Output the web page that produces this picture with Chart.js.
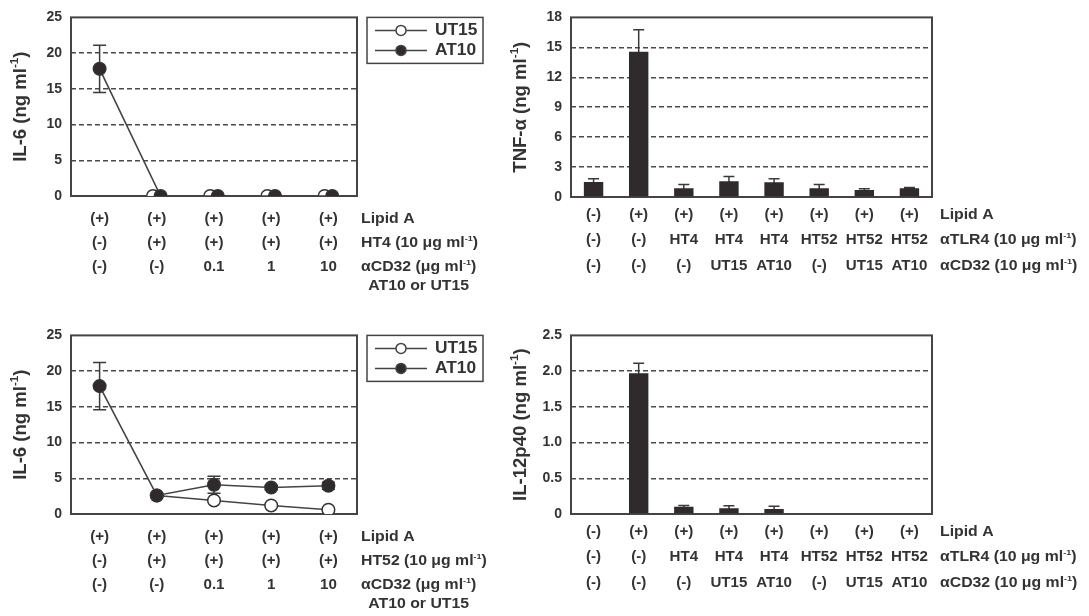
<!DOCTYPE html>
<html>
<head>
<meta charset="utf-8">
<script src="https://cdn.jsdelivr.net/npm/chart.js@4.4.1/dist/chart.umd.min.js"></script>
<style>
  html, body { margin: 0; padding: 0; background: #fff; }
  #page { position: relative; width: 1089px; height: 616px; overflow: hidden; background: #fff; }
  canvas { position: absolute; }
</style>
</head>
<body>
<div id="page">
  <canvas id="il6-ht4" width="500" height="300" style="left:0;top:0"></canvas>
  <canvas id="tnf" width="589" height="300" style="left:500px;top:0"></canvas>
  <canvas id="il6-ht52" width="500" height="300" style="left:0;top:318px"></canvas>
  <canvas id="il12" width="589" height="300" style="left:500px;top:318px"></canvas>
</div>
<script>
// ---- data: IL-6 panels (5 conditions) ----
const lipidA5 = ['(+)', '(+)', '(+)', '(+)', '(+)'];
const ht4Row = ['(-)', '(+)', '(+)', '(+)', '(+)'];
const ht52Row = ['(-)', '(+)', '(+)', '(+)', '(+)'];
const cd32Conc = ['(-)', '(-)', '0.1', '1', '10'];

const ut15Ht4 = [null, 0, 0, 0, 0];
const at10Ht4 = [17.8, 0, 0, 0, 0];
const at10Ht4Sd = [3.3, 0, 0, 0, 0];

const ut15Ht52 = [null, 2.6, 1.9, 1.2, 0.6];
const at10Ht52 = [17.9, 2.6, 4.1, 3.7, 3.95];
const at10Ht52Sd = [3.3, 0, 1.2, 0.3, 0.5];

// ---- data: TNF / IL-12 panels (8 conditions) ----
const lipidA8 = ['(-)', '(+)', '(+)', '(+)', '(+)', '(+)', '(+)', '(+)'];
const tlr4Row = ['(-)', '(-)', 'HT4', 'HT4', 'HT4', 'HT52', 'HT52', 'HT52'];
const cd32Row = ['(-)', '(-)', '(-)', 'UT15', 'AT10', '(-)', 'UT15', 'AT10'];

const tnfMean = [1.5, 14.55, 0.88, 1.57, 1.47, 0.88, 0.69, 0.88];
const tnfSd = [0.33, 2.2, 0.37, 0.49, 0.35, 0.37, 0.13, 0.07];

const il12Mean = [0, 1.97, 0.10, 0.08, 0.07, 0, 0, 0];
const il12Sd = [0, 0.14, 0.02, 0.035, 0.04, 0, 0, 0];

const TEXT = '#333';
const INK = '#2f2a2b';
const FONT = '"Liberation Sans", Arial, Helvetica, sans-serif';

// text with ^superscript^ parts, optional horizontal stretch
function drawRich(ctx, str, x, y, size, align, sx) {
  sx = sx || 1;
  const parts = str.split('^').map((t, i) => ({ t, sup: i % 2 === 1 }));
  const fontOf = p => 'bold ' + (p.sup ? Math.round(size * 0.6) : size) + 'px ' + FONT;
  let w = 0;
  parts.forEach(p => { ctx.font = fontOf(p); p.w = ctx.measureText(p.t).width; w += p.w; });
  ctx.save();
  ctx.translate(x, y);
  ctx.scale(sx, 1);
  let cx = align === 'center' ? -w / 2 : align === 'right' ? -w : 0;
  ctx.textAlign = 'left';
  ctx.textBaseline = 'middle';
  ctx.fillStyle = TEXT;
  parts.forEach(p => {
    ctx.font = fontOf(p);
    ctx.fillText(p.t, cx, p.sup ? -size * 0.33 : 0);
    cx += p.w;
  });
  ctx.restore();
  return w * sx;
}

const frame = {
  id: 'frame',
  beforeDatasetsDraw(chart) {
    const { ctx, chartArea: a } = chart;
    ctx.save();
    ctx.strokeStyle = '#444';
    ctx.lineWidth = 2;
    ctx.strokeRect(a.left, a.top, a.right - a.left, a.bottom - a.top);
    ctx.restore();
  }
};

const errorBars = {
  id: 'errorBars',
  beforeDatasetsDraw(chart) {
    const { ctx } = chart;
    const y = chart.scales.y;
    const cap = chart.config.type === 'bar' ? 5.5 : 6.5;
    chart.data.datasets.forEach((ds, i) => {
      if (!ds.errors) return;
      chart.getDatasetMeta(i).data.forEach((el, j) => {
        const v = ds.data[j], e = ds.errors[j];
        if (v == null || !e) return;
        const top = y.getPixelForValue(v + e);
        const bot = y.getPixelForValue(v - e);
        ctx.save();
        ctx.strokeStyle = '#3a3a3a';
        ctx.lineWidth = 1.5;
        ctx.beginPath();
        ctx.moveTo(el.x, top); ctx.lineTo(el.x, bot);
        ctx.moveTo(el.x - cap, top); ctx.lineTo(el.x + cap, top);
        ctx.moveTo(el.x - cap, bot); ctx.lineTo(el.x + cap, bot);
        ctx.stroke();
        ctx.restore();
      });
    });
  }
};

// side-by-side shift for overlapping markers
const nudge = {
  id: 'nudge',
  afterDatasetsUpdate(chart) {
    const all = chart.data.datasets;
    all.forEach((ds, i) => {
      if (!ds.nudge) return;
      chart.getDatasetMeta(i).data.forEach((pt, j) => {
        const same = all.some((o, k) => k !== i && o.data[j] != null && o.data[j] === ds.data[j]);
        if (same) pt.x += ds.nudge;
      });
    });
  }
};

function titlePlugin(title) {
  return {
    id: 'yTitle',
    afterDraw(chart) {
      const { ctx, chartArea: a } = chart;
      ctx.save();
      ctx.translate(21, (a.top + a.bottom) / 2);
      ctx.rotate(-Math.PI / 2);
      drawRich(ctx, title, 0, 0, 17.5, 'center', 1.06);
      ctx.restore();
    }
  };
}

function rowsPlugin(rows, gap) {
  return {
    id: 'conditionRows',
    afterDraw(chart) {
      const { ctx, chartArea: a } = chart;
      const x = chart.scales.x;
      let last = null;
      rows.forEach(row => {
        const y = a.bottom + row.dy;
        if (row.cells) {
          row.cells.forEach((c, j) => drawRich(ctx, c, x.getPixelForValue(j), y, 14, 'center', 1.08));
        }
        if (row.under && last) {
          drawRich(ctx, row.header, last.x + last.w / 2, y, 14, 'center', 1.13);
        } else {
          const hx = a.right + gap;
          last = { x: hx, w: drawRich(ctx, row.header, hx, y, 14, 'left', 1.13) };
        }
      });
    }
  };
}

const boxLegend = {
  id: 'boxLegend',
  afterDraw(chart) {
    const { ctx, chartArea: a } = chart;
    const bx = a.right + 10, by = a.top, bw = 116, bh = 46;
    ctx.save();
    ctx.strokeStyle = '#444';
    ctx.lineWidth = 1.5;
    ctx.strokeRect(bx, by, bw, bh);
    chart.data.datasets.forEach((ds, i) => {
      const ry = by + 13 + i * 20;
      ctx.strokeStyle = '#444';
      ctx.lineWidth = 1.5;
      ctx.beginPath();
      ctx.moveTo(bx + 8, ry); ctx.lineTo(bx + 60, ry);
      ctx.stroke();
      ctx.beginPath();
      ctx.arc(bx + 34, ry, 5, 0, Math.PI * 2);
      ctx.fillStyle = ds.pointBackgroundColor;
      ctx.fill();
      ctx.stroke();
      drawRich(ctx, ds.label, bx + 68, ry, 17, 'left', 1.02);
    });
    ctx.restore();
  }
};

function makeChart(id, cfg) {
  const yMax = cfg.yMax;
  const extra = [titlePlugin(cfg.title), rowsPlugin(cfg.rows, cfg.gap)];
  if (cfg.legend) extra.push(boxLegend);
  return new Chart(document.getElementById(id), {
    type: cfg.type,
    data: { labels: cfg.labels, datasets: cfg.datasets },
    options: {
      responsive: false,
      animation: false,
      devicePixelRatio: 1,
      layout: { padding: cfg.pad },
      plugins: { legend: { display: false }, tooltip: { enabled: false } },
      scales: {
        x: { display: false, offset: true },
        y: {
          min: 0,
          max: yMax,
          afterFit: s => { s.width = 71; },
          border: { display: false, dash: [5, 3] },
          grid: {
            drawTicks: false,
            lineWidth: 1.4,
            color: c => (c.tick.value === 0 || c.tick.value === yMax) ? 'rgba(0,0,0,0)' : '#4a4a4a'
          },
          ticks: {
            stepSize: cfg.yStep,
            padding: 9,
            color: TEXT,
            font: { family: FONT, weight: 'bold', size: 14 },
            callback: cfg.yFmt || (v => v)
          }
        }
      }
    },
    plugins: [frame, errorBars, nudge].concat(extra)
  });
}

function lineSets(ut15, at10, at10Sd, shift) {
  const base = { borderColor: '#444', borderWidth: 1.6, pointRadius: 6.3, pointBorderWidth: 1.5,
                 pointBorderColor: '#333', spanGaps: false };
  return [
    Object.assign({}, base, { label: 'UT15', data: ut15, pointBackgroundColor: '#fff', order: 1,
                              nudge: shift ? -3.8 : 0 }),
    Object.assign({}, base, { label: 'AT10', data: at10, errors: at10Sd, pointBackgroundColor: INK, order: 0,
                              nudge: shift ? 3.8 : 0 })
  ];
}

const linePad = { top: 14, right: 143, bottom: 104, left: 0 };

makeChart('il6-ht4', {
  type: 'line', labels: lipidA5, yMax: 25, yStep: 5, pad: linePad, legend: true, gap: 4,
  title: 'IL-6 (ng ml^-1^)',
  datasets: lineSets(ut15Ht4, at10Ht4, at10Ht4Sd, true),
  rows: [
    { cells: lipidA5, header: 'Lipid A', dy: 23 },
    { cells: ht4Row, header: 'HT4 (10 μg ml^-1^)', dy: 47 },
    { cells: cd32Conc, header: 'αCD32 (μg ml^-1^)', dy: 71 },
    { header: 'AT10 or UT15', dy: 90, under: true }
  ]
});

makeChart('il6-ht52', {
  type: 'line', labels: lipidA5, yMax: 25, yStep: 5, pad: linePad, legend: true, gap: 4,
  title: 'IL-6 (ng ml^-1^)',
  datasets: lineSets(ut15Ht52, at10Ht52, at10Ht52Sd, false),
  rows: [
    { cells: lipidA5, header: 'Lipid A', dy: 23 },
    { cells: ht52Row, header: 'HT52 (10 μg ml^-1^)', dy: 47 },
    { cells: cd32Conc, header: 'αCD32 (μg ml^-1^)', dy: 71 },
    { header: 'AT10 or UT15', dy: 90, under: true }
  ]
});

function barSet(mean, sd) {
  return [{ data: mean, errors: sd, backgroundColor: INK, borderWidth: 0,
            barPercentage: 0.43, categoryPercentage: 1 }];
}

const barRows = [
  { cells: lipidA8, header: 'Lipid A', dy: 18 },
  { cells: tlr4Row, header: 'αTLR4 (10 μg ml^-1^)', dy: 43.5 },
  { cells: cd32Row, header: 'αCD32 (10 μg ml^-1^)', dy: 69 }
];

makeChart('tnf', {
  type: 'bar', labels: lipidA8, yMax: 18, yStep: 3, gap: 8,
  pad: { top: 14, right: 157, bottom: 103, left: 0 },
  title: 'TNF-α (ng ml^-1^)',
  datasets: barSet(tnfMean, tnfSd),
  rows: barRows
});

makeChart('il12', {
  type: 'bar', labels: lipidA8, yMax: 2.5, yStep: 0.5, gap: 8,
  pad: { top: 14, right: 157, bottom: 104, left: 0 },
  title: 'IL-12p40 (ng ml^-1^)',
  yFmt: v => v === 0 ? '0' : v.toFixed(1),
  datasets: barSet(il12Mean, il12Sd),
  rows: barRows
});
</script>
</body>
</html>
